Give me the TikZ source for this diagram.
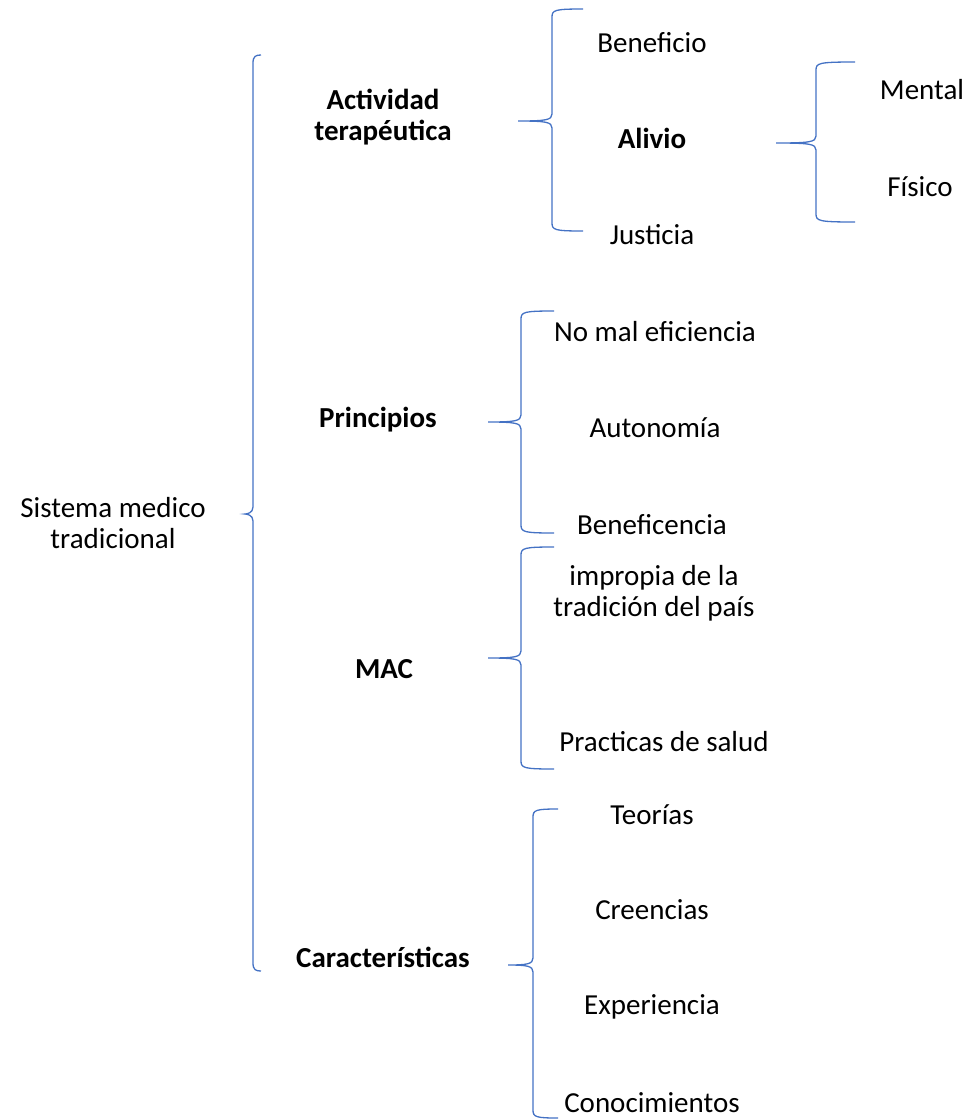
\documentclass[tikz,border=0pt]{standalone}
\usepackage{fontspec}
\setmainfont{Carlito}
\definecolor{braceblue}{RGB}{68,114,196}
\tikzset{
  bracket/.style={draw=braceblue, line width=1.3pt},
  lbl/.style={font=\fontsize{29}{31}\selectfont, align=center, inner sep=0pt},
  head/.style={lbl, font=\fontsize{29}{31}\selectfont\bfseries}
}
% x, top, middle, bottom, nub x, tip x
\newcommand{\curly}[6]{%
  \draw[bracket] (#6,#2) .. controls (#1+3,#2) and (#1,#2+1) .. (#1,#2+8)
    -- (#1,#3-7) .. controls (#1,#3-1) and (#1-6,#3) .. (#5,#3)
    .. controls (#1-6,#3) and (#1,#3+1) .. (#1,#3+7)
    -- (#1,#4-8) .. controls (#1,#4-1) and (#1+3,#4) .. (#6,#4);}
\begin{document}
\begin{tikzpicture}[x=1pt,y=-1pt]
  \useasboundingbox (0,0) rectangle (972,1120);
  \draw
    (113,523) node[lbl] (sis){Sistema medico\\tradicional}
    (383,117) node[head] (act){Actividad\\terapéutica}
    (378,420) node[head] (pri){Principios}
    (384,669) node[head] (mac){MAC}
    (383,957) node[head] (car){Características}
    (652,43) node[lbl] (ben){Beneficio}
    (652,138) node[head] (ali){Alivio}
    (652,235) node[lbl] (jus){Justicia}
    (922,90) node[lbl] (men){Mental}
    (920,187) node[lbl] (fis){Físico}
    (655,332) node[lbl] (nom){No mal eficiencia}
    (655,428) node[lbl] (aut){Autonomía}
    (652,525) node[lbl] (bfc){Beneficencia}
    (654,593) node[lbl] (imp){impropia de la\\tradición del país}
    (664,742) node[lbl] (pra){Practicas de salud}
    (652,815) node[lbl] (teo){Teorías}
    (652,910) node[lbl] (cre){Creencias}
    (652,1007) node[lbl] (exp){Experiencia}
    (652,1103) node[lbl] (con){Conocimientos};
  \begin{scope}
    \curly{253}{55}{514}{971}{245}{261}
    \curly{552}{9}{121}{231}{518}{583}
    \curly{816}{62}{143}{222}{776}{855}
    \curly{521}{311}{422}{533}{488}{554}
    \curly{521}{547}{658}{769}{488}{554}
    \curly{533}{809}{965}{1118}{508}{558}
  \end{scope}
\end{tikzpicture}
\end{document}
